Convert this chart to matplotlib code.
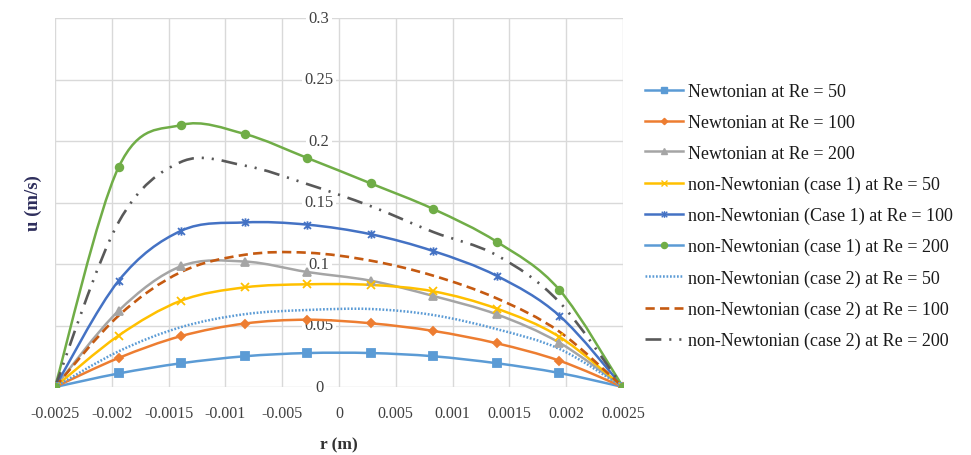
import matplotlib
matplotlib.use("Agg")
import matplotlib.pyplot as plt
from matplotlib.path import Path
from matplotlib.patches import PathPatch
from matplotlib.lines import Line2D

plt.rcParams['font.family'] = ['Liberation Serif', 'DejaVu Serif']

# ---------------- data ----------------
x_r = [-0.0025, -0.00194, -0.00139, -0.00083, -0.00028, 0.00028, 0.00083, 0.00139, 0.00194, 0.0025]

newt_re50 = [0, 0.0110, 0.0193, 0.0250, 0.0276, 0.0276, 0.0250, 0.0193, 0.0114, 0]
newt_re100 = [0, 0.0236, 0.0414, 0.0516, 0.0547, 0.0518, 0.0456, 0.0355, 0.0214, 0]
newt_re200 = [0, 0.0620, 0.0982, 0.1020, 0.0935, 0.0864, 0.0740, 0.0590, 0.0360, 0]
nn1_re50 = [0, 0.0418, 0.0702, 0.0810, 0.0835, 0.0830, 0.0778, 0.0637, 0.0408, 0]
nn1_re100 = [0, 0.0864, 0.1270, 0.1338, 0.1320, 0.1242, 0.1105, 0.0903, 0.0580, 0]
nn1_re200 = [0, 0.1787, 0.2130, 0.2057, 0.1862, 0.1655, 0.1447, 0.1180, 0.0790, 0]
nn2_re50 = [0, 0.0290, 0.0487, 0.0592, 0.0626, 0.0634, 0.0585, 0.0470, 0.0310, 0]
nn2_re100 = [0, 0.0580, 0.0935, 0.1075, 0.1092, 0.1027, 0.0905, 0.0720, 0.0450, 0]
nn2_re200 = [0, 0.1340, 0.1830, 0.1800, 0.1650, 0.1470, 0.1260, 0.1070, 0.0690, 0]

series_labels = [
    "Newtonian at Re = 50",
    "Newtonian at Re = 100",
    "Newtonian at Re = 200",
    "non-Newtonian (case 1) at Re = 50",
    "non-Newtonian (Case 1) at Re = 100",
    "non-Newtonian (case 1) at Re = 200",
    "non-Newtonian (case 2) at Re = 50",
    "non-Newtonian (case 2) at Re = 100",
    "non-Newtonian (case 2) at Re = 200",
]

x_ticks = [-0.0025, -0.002, -0.0015, -0.001, -0.0005, 0, 0.0005, 0.001, 0.0015, 0.002, 0.0025]
x_tick_labels = ['-0.0025', '-0.002', '-0.0015', '-0.001', '-0.005', '0',
                 '0.005', '0.001', '0.0015', '0.002', '0.0025']
y_ticks = [0, 0.05, 0.1, 0.15, 0.2, 0.25, 0.3]
y_tick_labels = ['0', '0.05', '0.1', '0.15', '0.2', '0.25', '0.3']

# ---------------- styles ----------------
star_path = Path([(-1, -1), (1, 1), (-1, 1), (1, -1), (0, -1.2), (0, 1.2)],
                 [Path.MOVETO, Path.LINETO, Path.MOVETO, Path.LINETO, Path.MOVETO, Path.LINETO])

styles = [
    dict(color='#5B9BD5', ls='-', marker='s', ms=5.5, mfc='#5B9BD5', lw=1.8),
    dict(color='#ED7D31', ls='-', marker='D', ms=4.0, mfc='#ED7D31', lw=1.8),
    dict(color='#A5A5A5', ls='-', marker='^', ms=5.5, mfc='#A5A5A5', lw=1.8),
    dict(color='#FFC000', ls='-', marker='x', ms=6.0, mfc='#FFC000', lw=1.8),
    dict(color='#4472C4', ls='-', marker=star_path, ms=6.0, mfc='#4472C4', lw=1.8),
    dict(color='#70AD47', ls='-', marker='o', ms=5.5, mfc='#70AD47', lw=1.8),
    dict(color='#5B9BD5', ls=(0, (0.7, 0.7)), marker=None, ms=0, mfc=None, lw=1.8),
    dict(color='#C55A11', ls=(0, (3.5, 2.0)), marker=None, ms=0, mfc=None, lw=1.9),
    dict(color='#595959', ls=(0, (6.0, 3.0, 0.8, 3.0, 0.8, 3.0)), marker=None, ms=0, mfc=None, lw=1.9),
]

all_series = [newt_re50, newt_re100, newt_re200, nn1_re50, nn1_re100, nn1_re200,
              nn2_re50, nn2_re100, nn2_re200]


def smooth_path(xs, ys):
    pts = list(zip(xs, ys))
    n = len(pts)
    verts = [pts[0]]
    codes = [Path.MOVETO]
    for i in range(n - 1):
        p0 = pts[i - 1] if i > 0 else pts[i]
        p1 = pts[i]
        p2 = pts[i + 1]
        p3 = pts[i + 2] if i + 2 < n else pts[i + 1]
        c1 = (p1[0] + (p2[0] - p0[0]) / 6.0, p1[1] + (p2[1] - p0[1]) / 6.0)
        c2 = (p2[0] - (p3[0] - p1[0]) / 6.0, p2[1] - (p3[1] - p1[1]) / 6.0)
        verts += [c1, c2, p2]
        codes += [Path.CURVE4, Path.CURVE4, Path.CURVE4]
    return Path(verts, codes)


fig = plt.figure(figsize=(9.71, 4.56), dpi=100)
ax = fig.add_axes([55 / 971, 1 - 388 / 456, (623 - 55) / 971, (388 - 19) / 456])

ax.set_xlim(-0.0025, 0.0025)
ax.set_ylim(0, 0.3)

# grid
ax.set_xticks(x_ticks)
ax.set_xticklabels(x_tick_labels, fontsize=11.5)
ax.set_yticks(y_ticks)
ax.set_yticklabels([])
ax.tick_params(axis='both', length=0)
ax.tick_params(axis='x', pad=13)
ax.grid(True, color='#D9D9D9', lw=1.0)
ax.set_axisbelow(True)
for sp in ax.spines.values():
    sp.set_visible(False)

handles = []
for ys, st, lab in zip(all_series, styles, series_labels):
    patch = PathPatch(smooth_path(x_r, ys), fill=False, edgecolor=st['color'],
                      lw=st['lw'], linestyle=st['ls'], zorder=3)
    ax.add_patch(patch)
    if st['marker'] is not None:
        ax.plot(x_r, ys, linestyle='none', marker=st['marker'], ms=st['ms'],
                mfc=st['mfc'], mec=st['color'], mew=1.3, zorder=4)
    handles.append(Line2D([], [], color=st['color'], lw=st['lw'], linestyle=st['ls'],
                          marker=st['marker'] if st['marker'] is not None else None,
                          ms=st['ms'] * 0.8, mfc=st['mfc'], mec=st['color'], mew=1.0))

# legend handle of case 1 Re=200 is drawn with a light blue line in the reference
handles[5] = Line2D([], [], color='#5B9BD5', lw=1.8, marker='o', ms=4.4,
                    mfc='#70AD47', mec='#70AD47')

# y tick labels drawn next to the r = 0 axis with white background
for yv, yl in zip(y_ticks, y_tick_labels):
    ax.annotate(yl, xy=(0, yv), xytext=(-20, 0), textcoords='offset pixels',
                ha='center', va='center', fontsize=12, color='#404040',
                bbox=dict(boxstyle='square,pad=0.15', fc='white', ec='none'),
                zorder=2, annotation_clip=False)

for lbl in ax.get_xticklabels():
    lbl.set_color('#404040')

ax.set_xlabel('r (m)', fontsize=12.5, fontweight='bold', color='#333333')
ax.xaxis.set_label_coords(0.5, -0.135)
ax.set_ylabel('u (m/s)', fontsize=13.5, fontweight='bold', color='#2E2E5C')
ax.yaxis.set_label_coords(-0.023, 0.5)

leg = fig.legend(handles=handles, labels=series_labels, loc='upper left',
                 bbox_to_anchor=(645 / 971, 1 - 84 / 456), frameon=False,
                 fontsize=13, handlelength=2.1, handletextpad=0.3,
                 labelspacing=0.77, borderaxespad=0, borderpad=0)
for t in leg.get_texts():
    t.set_color('#1a1a1a')

fig.savefig('out.png', dpi=100)
